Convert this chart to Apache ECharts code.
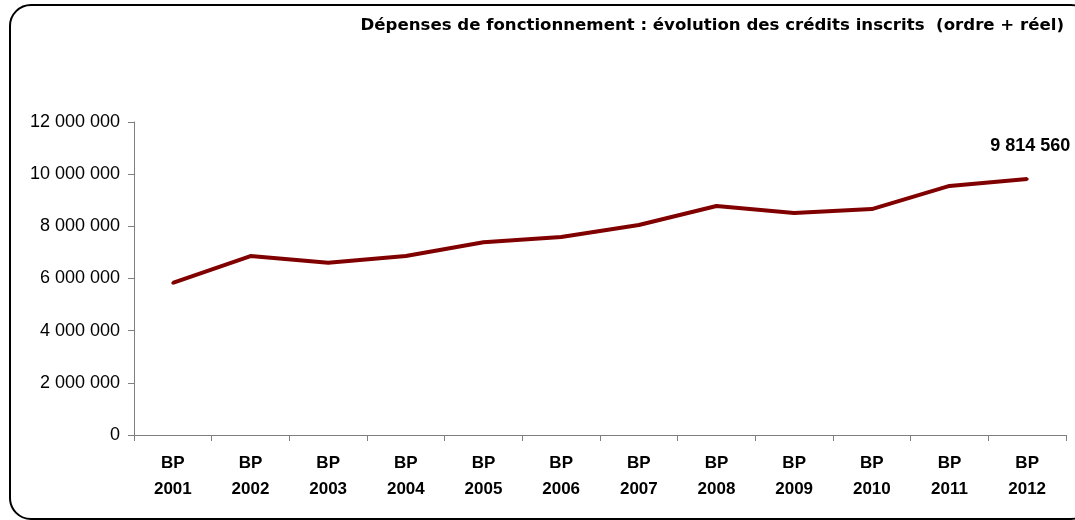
<!DOCTYPE html>
<html>
<head>
<meta charset="utf-8">
<script src="https://cdn.jsdelivr.net/npm/echarts@6/dist/echarts.min.js"></script>
<style>
    body { margin: 0; background: #fff; }
    .frame {
        position: absolute;
        left: 9px; top: 4px;
        width: 1080px; height: 512px;
        border: 2px solid #000;
        border-radius: 22px;
    }
    #chart {
        position: absolute;
        left: 0; top: 0;
        width: 1075px; height: 520px;
    }
</style>
</head>
<body>
<div class="frame"></div>
<div id="chart"></div>
<script>
    const years = ['BP\n2001', 'BP\n2002', 'BP\n2003', 'BP\n2004', 'BP\n2005', 'BP\n2006',
        'BP\n2007', 'BP\n2008', 'BP\n2009', 'BP\n2010', 'BP\n2011', 'BP\n2012']
    const credits = [5830000, 6860000, 6600000, 6860000, 7390000, 7590000,
        8050000, 8780000, 8510000, 8660000, 9550000, 9814560]
    const yTicks = [0, 2000000, 4000000, 6000000, 8000000, 10000000, 12000000]

    function spaced (v) {
        return String(v).replace(/\B(?=(\d{3})+(?!\d))/g, ' ')
    }

    const chart = echarts.init(document.getElementById('chart'))
    chart.setOption({
        animation: false,
        textStyle: {
            fontFamily: 'Liberation Sans, Arial, sans-serif',
            color: '#000'
        },
        title: {
            text: 'Dépenses de fonctionnement : évolution des crédits inscrits  (ordre + réel)',
            right: 6,
            top: 12,
            textStyle: {
                fontFamily: 'DejaVu Sans',
                fontSize: 16.6,
                fontWeight: 'bold',
                color: '#000'
            }
        },
        grid: {
            left: 134,
            right: 9,
            top: 122,
            bottom: 85
        },
        xAxis: {
            type: 'category',
            data: years,
            boundaryGap: true,
            axisLine: { lineStyle: { color: '#7f7f7f', width: 1 } },
            axisTick: { show: true, alignWithLabel: false, length: 6, lineStyle: { color: '#7f7f7f' } },
            axisLabel: {
                fontSize: 17,
                fontWeight: 'bold',
                color: '#000',
                lineHeight: 26,
                margin: 15
            },
            splitLine: { show: false }
        },
        yAxis: {
            type: 'value',
            min: yTicks[0],
            max: yTicks[yTicks.length - 1],
            interval: 2000000,
            axisLine: { show: true, lineStyle: { color: '#7f7f7f', width: 1 } },
            axisTick: { show: true, length: 6, lineStyle: { color: '#7f7f7f' } },
            axisLabel: {
                fontSize: 18,
                color: '#000',
                margin: 14,
                formatter: v => spaced(v)
            },
            splitLine: { show: false }
        },
        series: [
            {
                type: 'line',
                data: credits.map((v, i) => i === credits.length - 1
                    ? { value: v, label: { show: true } }
                    : v),
                symbol: 'circle',
                symbolSize: 3,
                showAllSymbol: true,
                lineStyle: { color: '#800000', width: 4 },
                itemStyle: { color: '#800000' },
                label: {
                    show: false,
                    position: 'top',
                    distance: 22,
                    offset: [3, 0],
                    fontSize: 18,
                    fontWeight: 'bold',
                    color: '#000',
                    formatter: p => spaced(p.value)
                }
            }
        ]
    })
</script>
</body>
</html>
